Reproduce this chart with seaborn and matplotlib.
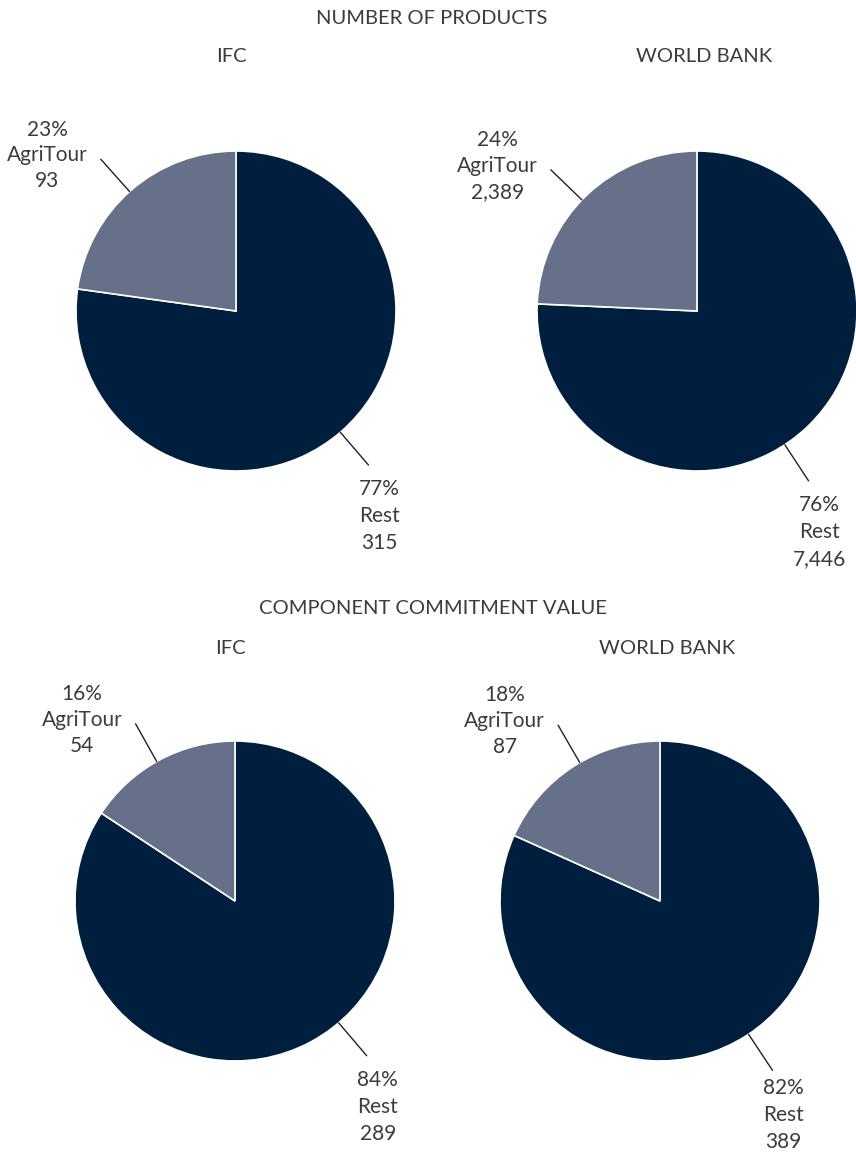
import numpy as np
import matplotlib
matplotlib.use("Agg")
import matplotlib.pyplot as plt
import seaborn as sns

# data
categories = ["Rest", "AgriTour"]
products_ifc = [315, 93]
products_wb = [7446, 2389]
commitment_ifc = [289, 54]
commitment_wb = [389, 87]

section_titles = ["NUMBER OF PRODUCTS", "COMPONENT COMMITMENT VALUE"]
pie_titles = ["IFC", "WORLD BANK"]

colors = ["#001f3f", "#667089"]
text_color = "#3c3c3c"

sns.set_theme(style="white")
plt.rcParams['font.family'] = ['Lato', 'DejaVu Sans']

W, H = 856, 1154
fig = plt.figure(figsize=(W / 100, H / 100), dpi=100)

R = 160  # pie radius in px
L = 1.75  # axis half-range in data units
size = 2 * L * R
labels = []


def draw_pie(cx, cy, values, leader_angles):
    ax = fig.add_axes([(cx - size / 2) / W, (H - cy - size / 2) / H, size / W, size / H])
    wedges, _ = ax.pie(values, colors=colors, startangle=90, counterclock=False,
                       radius=1, wedgeprops=dict(edgecolor="white", linewidth=1.2))
    ax.set_xlim(-L, L)
    ax.set_ylim(-L, L)
    ax.set_aspect("equal")
    ax.axis("off")
    total = sum(values)
    for name, v, a in zip(categories, values, leader_angles):
        ang = np.deg2rad(a)
        c, s = np.cos(ang), np.sin(ang)
        x1, y1 = 1.27 * c, 1.27 * s
        ax.plot([c, x1], [s, y1], color="#222222", lw=1.0, clip_on=False)
        label = f"{round(100 * v / total)}%\n{name}\n{v:,}"
        kw = dict(fontsize=15, color=text_color, multialignment="center")
        if c < 0:
            t = ax.text(x1 - 13 / R, y1 + 4 / R, label, ha="right", va="center",
                        linespacing=1.36, **kw)
        else:
            t = ax.text(x1 + 11 / R, y1 - 14 / R, label, ha="center", va="top",
                        linespacing=1.45, **kw)
        labels.append(t)
    return ax


# leader line directions (degrees) for Rest, AgriTour
draw_pie(236, 311, products_ifc, (-49.3, 131.7))
draw_pie(697, 311, products_wb, (-56.7, 136.0))
draw_pie(235, 901, commitment_ifc, (-49.6, 119.3))
draw_pie(660, 901, commitment_wb, (-56.4, 120.1))

tkw = dict(ha="center", va="center", fontsize=14.5, color=text_color)
fig.text(432 / W, 1 - 18 / H, section_titles[0], **tkw)
fig.text(231 / W, 1 - 57 / H, pie_titles[0], **tkw)
fig.text(704 / W, 1 - 57 / H, pie_titles[1], **tkw)
fig.text(433 / W, 1 - 608 / H, section_titles[1], **tkw)
fig.text(230 / W, 1 - 648 / H, pie_titles[0], **tkw)
fig.text(667 / W, 1 - 648 / H, pie_titles[1], **tkw)

# keep labels inside the figure, like the original does
fig.canvas.draw()
renderer = fig.canvas.get_renderer()
for t in labels:
    bb = t.get_window_extent(renderer)
    over_x = bb.x1 - (W - 5)
    if over_x > 0:
        t.set_x(t.get_position()[0] - over_x / R)
    over_y = 2 - bb.y0
    if over_y > 0:
        t.set_y(t.get_position()[1] + over_y / R)

fig.savefig("out.png", dpi=100, facecolor="white")
